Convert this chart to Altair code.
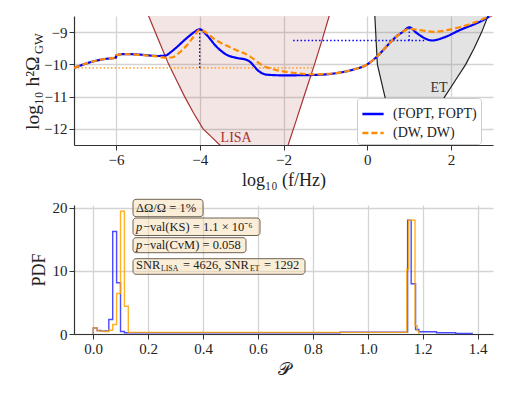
import altair as alt
import pandas as pd

FONT = "Liberation Serif"
SERIES = ["(FOPT, FOPT)", "(DW, DW)"]
BLUE = "#0000ff"
ORANGE = "#ff8c00"

# ---------------- top panel: spectra ----------------
fopt_x = [-7.0, -6.6, -6.3, -6.0, -5.99, -5.8, -5.4, -5.0, -4.8, -4.72, -4.56, -4.40, -4.24, -4.12, -4.0,
          -3.84, -3.6, -3.36, -3.12, -2.88, -2.8, -2.7, -2.6, -2.5, -2.4, -2.0, -1.3, -0.73, -0.33, 0.0, 0.22,
          0.46, 0.70, 0.86, 1.0, 1.18, 1.42, 1.54, 1.82, 2.22, 2.7, 3.0]
fopt_y = [-10.11, -9.93, -9.84, -9.79, -9.72, -9.68, -9.70, -9.74, -9.72, -9.65, -9.48, -9.29, -9.11, -8.99, -8.91,
          -9.08, -9.45, -9.70, -9.80, -9.86, -9.92, -10.06, -10.2, -10.28, -10.32, -10.34, -10.33, -10.27, -10.16,
          -10.0, -9.77, -9.44, -9.13, -8.98, -8.85, -9.03, -9.22, -9.26, -9.17, -8.93, -8.67, -8.45]

dw_x = [-7.0, -6.6, -6.3, -6.0, -5.99, -5.8, -5.4, -5.0, -4.8, -4.65, -4.5, -4.3, -4.15, -4.0,
        -3.6, -3.12, -2.8, -2.6, -2.48, -2.25, -1.77, -1.29, -0.73, -0.33, 0.0, 0.22, 0.46, 0.70,
        0.86, 1.0, 1.26, 1.58, 1.9, 2.22, 2.7, 3.0]
dw_y = [-10.11, -9.93, -9.84, -9.79, -9.72, -9.68, -9.71, -9.76, -9.80, -9.78, -9.65, -9.40, -9.15, -8.93,
        -9.26, -9.56, -9.75, -9.95, -10.05, -10.15, -10.26, -10.31, -10.27, -10.16, -10.0, -9.77, -9.44, -9.13,
        -8.98, -8.90, -8.94, -8.99, -8.94, -8.84, -8.63, -8.45]

# dotted peak guides (segment id, x, y)
dot_orange_seg = [0, 0, 1, 1]
dot_orange_x = [-7.0, -1.29, -4.0, -4.0]
dot_orange_y = [-10.11, -10.11, -10.11, -8.93]
dot_blue_seg = [0, 0, 1, 1, 2, 2]
dot_blue_x = [-4.0, -4.0, -1.77, 1.38, 1.0, 1.0]
dot_blue_y = [-10.11, -8.91, -9.26, -9.26, -9.26, -8.85]

# detector sensitivity curves
lisa_x = [-5.45, -5.22, -4.98, -4.74, -4.55, -4.36, -4.15, -3.92, -3.72, -3.52, -3.2, -2.8, -2.4,
          -2.1, -1.89, -1.7, -1.5, -1.26, -1.08, -0.91, -0.8]
lisa_y = [-7.9, -8.5, -9.25, -10.0, -10.5, -11.0, -11.5, -12.0, -12.25, -12.5, -12.9, -13.1, -13.1,
          -12.9, -12.5, -11.75, -10.95, -10.0, -9.25, -8.5, -8.05]
et_x = [0.14, 0.18, 0.24, 0.42, 0.61, 0.71, 0.85, 1.0, 1.14, 1.36, 1.6, 1.85, 2.1, 2.35, 2.55, 2.73, 2.88, 3.0]
et_y = [-8.2, -8.5, -10.0, -11.0, -12.0, -12.5, -12.75, -12.8, -12.5, -12.0, -11.5, -11.0, -10.5, -10.0,
        -9.5, -9.0, -8.5, -8.2]

det_labels = ["LISA", "ET"]
det_label_x = [-3.13, 1.71]
det_label_y = [-12.27, -10.72]

x_ticks_top = [-6, -4, -2, 0, 2]
y_ticks_top = [-12, -11, -10, -9]

# ---------------- bottom panel: histograms ----------------
blue_edges = [0.0, 0.0, 0.0142, 0.0284, 0.0426, 0.0568, 0.071, 0.0852, 0.0994, 0.1136, 0.5, 0.9,
              1.145, 1.158, 1.174, 1.186, 1.25, 1.32, 1.38]
blue_vals = [0.0, 0.95, 0.55, 0.45, 0.5, 2.3, 16.2, 8.1, 0.4, 0.2, 0.2, 0.3,
             18.0, 7.95, 0.7, 0.35, 0.2, 0.08, 0.0]
orange_edges = [0.0, 0.0, 0.0142, 0.0284, 0.0426, 0.0568, 0.071, 0.0852, 0.0994, 0.1136, 0.1278,
                1.142, 1.149, 1.172, 1.18, 1.186]
orange_vals = [0.0, 0.95, 0.5, 0.45, 0.4, 0.6, 1.5, 6.4, 19.4, 4.4, 0.25,
               10.2, 18.0, 1.3, 0.5, 0.0]

x_ticks_bot = [0.0, 0.2, 0.4, 0.6, 0.8, 1.0, 1.2, 1.4]
y_ticks_bot = [0, 10, 20]

W, H = 419, 129

# ---------------- build top ----------------
xs_top = alt.X("x:Q", scale=alt.Scale(domain=[-7, 3], nice=False, zero=False),
               axis=alt.Axis(values=x_ticks_top, format="d", title="log₁₀ (f/Hz)"))
ys_top = alt.Y("y:Q", scale=alt.Scale(domain=[-12.5, -8.5], nice=False, zero=False),
               axis=alt.Axis(values=y_ticks_top, format="d", title=None))

lisa_df = pd.DataFrame({"x": lisa_x, "y": lisa_y})
et_df = pd.DataFrame({"x": et_x, "y": et_y})

lisa_area = alt.Chart(lisa_df).mark_area(clip=True, color="#a52a2a", opacity=0.12).encode(
    x=xs_top, y=ys_top, y2=alt.value(0))
lisa_line = alt.Chart(lisa_df).mark_line(clip=True, color="#a83232", strokeWidth=1.2).encode(
    x=xs_top, y=ys_top)
et_area = alt.Chart(et_df).mark_area(clip=True, color="#808080", opacity=0.22).encode(
    x=xs_top, y=ys_top, y2=alt.value(0))
et_line = alt.Chart(et_df).mark_line(clip=True, color="#222222", strokeWidth=1.2).encode(
    x=xs_top, y=ys_top)

lab_df = pd.DataFrame({"t": det_labels, "x": det_label_x, "y": det_label_y, "c": ["#a83232", "#333333"]})
det_text = alt.Chart(lab_df).mark_text(font=FONT, fontSize=14).encode(
    x=xs_top, y=ys_top, text="t:N", color=alt.Color("c:N", scale=None))

legend = alt.Legend(title=None, orient="none", legendX=283, legendY=82, fillColor="white",
                    strokeColor="#cccccc", padding=4, cornerRadius=3, labelFont=FONT,
                    labelFontSize=14, labelColor="#222", symbolType="stroke", symbolStrokeWidth=2.5,
                    symbolSize=450, rowPadding=0, labelOffset=8)
col = alt.Color("s:N", scale=alt.Scale(domain=SERIES, range=[BLUE, ORANGE]), legend=legend)
dash = alt.StrokeDash("s:N", scale=alt.Scale(domain=SERIES, range=[[1, 0], [6, 3]]), legend=legend)

fopt_df = pd.DataFrame({"x": fopt_x, "y": fopt_y, "s": SERIES[0], "i": range(len(fopt_x))})
dw_df = pd.DataFrame({"x": dw_x, "y": dw_y, "s": SERIES[1], "i": range(len(dw_x))})
fopt_line = alt.Chart(fopt_df).mark_line(clip=True, strokeWidth=2.2, interpolate="monotone").encode(
    x=xs_top, y=ys_top, color=col, strokeDash=dash, order="i:Q")
dw_line = alt.Chart(dw_df).mark_line(clip=True, strokeWidth=2.2, interpolate="monotone").encode(
    x=xs_top, y=ys_top, color=col, strokeDash=dash, order="i:Q")

dot_o_df = pd.DataFrame({"g": dot_orange_seg, "x": dot_orange_x, "y": dot_orange_y})
dot_b_df = pd.DataFrame({"g": dot_blue_seg, "x": dot_blue_x, "y": dot_blue_y})
dot_o = alt.Chart(dot_o_df).mark_line(color=ORANGE, strokeWidth=1.3, strokeDash=[1.5, 2.2]).encode(
    x=xs_top, y=ys_top, detail="g:N")
dot_b = alt.Chart(dot_b_df).mark_line(color=BLUE, strokeWidth=1.3, strokeDash=[1.5, 2.2]).encode(
    x=xs_top, y=ys_top, detail="g:N")

ytitle_main = alt.Chart(pd.DataFrame({"t": ["log₁₀ h²Ω"]})).mark_text(
    font=FONT, fontSize=19.5, angle=270, align="left", baseline="alphabetic", color="#222").encode(
    x=alt.value(-35), y=alt.value(114), text="t:N")
ytitle_sub = alt.Chart(pd.DataFrame({"t": ["GW"]})).mark_text(
    font=FONT, fontSize=12.5, angle=270, align="left", baseline="alphabetic", color="#222").encode(
    x=alt.value(-31), y=alt.value(38), text="t:N")

top = alt.layer(lisa_area, et_area, lisa_line, et_line, det_text, dot_o, dot_b,
                fopt_line, dw_line, ytitle_main, ytitle_sub).properties(width=W, height=H)

# ---------------- build bottom ----------------
xs_bot = alt.X("x:Q", scale=alt.Scale(domain=[-0.07, 1.456], nice=False, zero=False),
               axis=alt.Axis(values=x_ticks_bot, format=".1f", title="𝒫"))
ys_bot = alt.Y("y:Q", scale=alt.Scale(domain=[0, 20.4], nice=False),
               axis=alt.Axis(values=y_ticks_bot, format="d", title="PDF"))

hb_df = pd.DataFrame({"x": blue_edges, "y": blue_vals, "i": range(len(blue_edges))})
ho_df = pd.DataFrame({"x": orange_edges, "y": orange_vals, "i": range(len(orange_edges))})
hist_b = alt.Chart(hb_df).mark_line(interpolate="step-after", color="#2b2bff", strokeWidth=1.4,
                                    opacity=0.85).encode(x=xs_bot, y=ys_bot, order="i:Q")
hist_o = alt.Chart(ho_df).mark_line(interpolate="step-after", color="#ffa500", strokeWidth=1.4,
                                    opacity=0.85).encode(x=xs_bot, y=ys_bot, order="i:Q")

one = pd.DataFrame({"a": [0]})
boxes = [(-5.7, 11.7, 129), (13.0, 30.5, 186), (32.7, 47.7, 172), (53.7, 69.3, 231)]
box_layers = []
for (y0, y1, x1) in boxes:
    box_layers.append(alt.Chart(one).mark_rect(fill="#f5deb3", fillOpacity=0.5, stroke="#6e6253",
                                               strokeWidth=1, cornerRadius=3).encode(
        x=alt.value(59), x2=alt.value(x1), y=alt.value(y0), y2=alt.value(y1)))

# text pieces: (text, x, y, size, italic)
pieces = [
    ("ΔΩ/Ω = 1%", 62, 3, 12.5, False),
    ("p", 62, 21.8, 12.5, True),
    ("−val(KS) = 1.1 × 10⁻⁶", 69, 21.8, 12.5, False),
    ("p", 62, 40.2, 12.5, True),
    ("−val(CvM) = 0.058", 69, 40.2, 12.5, False),
    ("SNR", 62, 60.0, 12.5, False),
    ("LISA", 87, 63.5, 7.8, False),
    ("= 4626, SNR", 109, 60.0, 12.5, False),
    ("ET", 176, 63.5, 7.8, False),
    ("= 1292", 190, 60.0, 12.5, False),
]
text_layers = []
for (t, px, py, fs, it) in pieces:
    text_layers.append(alt.Chart(pd.DataFrame({"t": [t]})).mark_text(
        font=FONT, fontSize=fs, align="left", baseline="middle", color="#222",
        fontStyle="italic" if it else "normal").encode(
        x=alt.value(px), y=alt.value(py), text="t:N"))

bottom = alt.layer(hist_b, hist_o, *box_layers, *text_layers).properties(width=W, height=H)

chart = alt.vconcat(top, bottom, spacing=9).configure(
    font=FONT, padding={"top": 8, "left": 15, "right": 5, "bottom": 5}
).configure_view(stroke=None).configure_axis(
    labelFont=FONT, labelFontSize=15, labelColor="#222", labelPadding=2,
    titleFont=FONT, titleFontSize=18, titleFontWeight="normal", titleColor="#222",
    tickColor="#333", tickSize=5, tickWidth=1, domainColor="#333", domainWidth=1.2,
    gridColor="#d4d4d4", gridWidth=1.3, titlePadding=4
)

chart.save("out.html", embed_options={"renderer": "svg", "actions": False})
